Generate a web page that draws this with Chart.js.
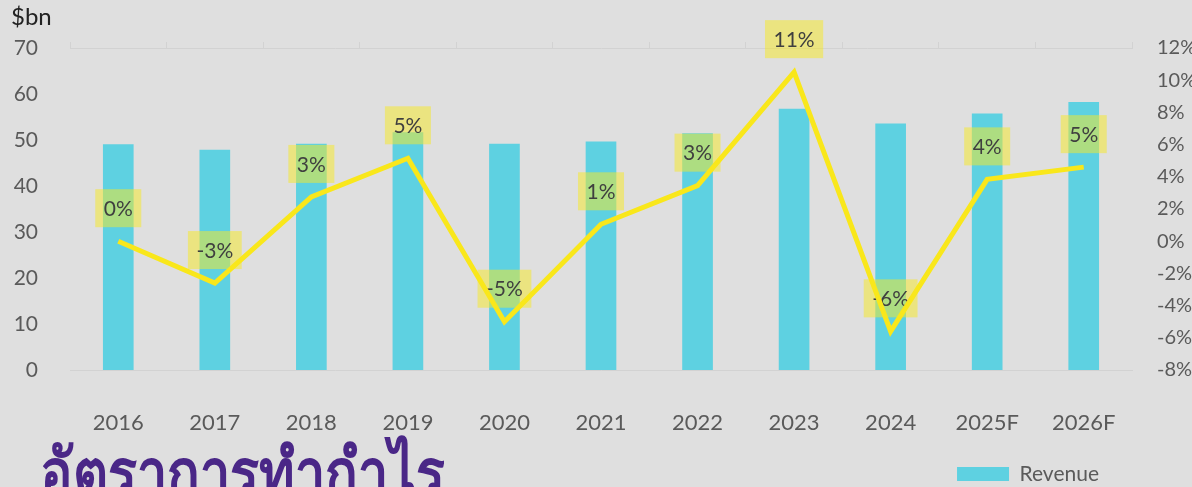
<!DOCTYPE html>
<html>
<head>
<meta charset="utf-8">
<script src="https://cdn.jsdelivr.net/npm/chart.js@4.4.1/dist/chart.umd.min.js"></script>
<style>
  html, body { margin: 0; padding: 0; background: #dfdfdf; overflow: hidden; }
  #wrap { position: relative; width: 1192px; height: 487px; overflow: hidden; }
  #unit { position: absolute; left: 11px; top: 1px; font: 24px Lato, sans-serif; color: #222; }
  #headline { position: absolute; left: 40px; top: 437px; font: 900 66px "Noto Sans", sans-serif; color: #4a2787;
              white-space: nowrap; line-height: 1; transform: scaleX(0.82); transform-origin: left top; }
</style>
</head>
<body>
<div id="wrap">
  <canvas id="chart" width="1192" height="487"></canvas>
  <div id="unit">$bn</div>
  <div id="headline">อัตราการทำกำไร</div>
</div>
<script>
// values
var years = ['2016', '2017', '2018', '2019', '2020', '2021', '2022', '2023', '2024', '2025F', '2026F'];
var revenue = [49.0, 47.8, 49.1, 51.6, 49.1, 49.6, 51.4, 56.7, 53.5, 55.7, 58.2];   // $bn
var margin = [0.0, -2.6, 2.75, 5.15, -5.0, 1.05, 3.45, 10.5, -5.6, 3.84, 4.6];    // %

var FONT = 'Lato, sans-serif';
var GREY = '#5a5a5a';
var AXIS_LINE = '#d2d2d2';

// yellow boxes with the rounded margin, drawn between the bars and the line
var marginLabels = {
	id: 'marginLabels',
	afterDatasetDraw: function (chart, args) {
		if (args.index !== 1) return;
		var ctx = chart.ctx;
		var pts = chart.getDatasetMeta(0).data;
		ctx.save();
		ctx.font = '21px ' + FONT;
		ctx.textAlign = 'center';
		ctx.textBaseline = 'middle';
		for (var i = 0; i < pts.length; i++) {
			var txt = Math.round(margin[i]) + '%';
			var w = ctx.measureText(txt).width + 17;
			var cx = pts[i].x, cy = pts[i].y - 33;
			ctx.fillStyle = 'rgba(246, 232, 40, 0.52)';
			ctx.fillRect(cx - w / 2, cy - 19, w, 38);
			ctx.fillStyle = '#3f3f3f';
			ctx.fillText(txt, cx, cy + 1);
		}
		ctx.restore();
	}
};

var ctx = document.getElementById('chart').getContext('2d');
var config = {
	type: 'bar',
	data: {
		labels: years,
		datasets: [{
			type: 'line',
			label: 'Margin',
			data: margin,
			yAxisID: 'yr',
			borderColor: '#f9e71b',
			borderWidth: 5,
			pointRadius: 0,
			tension: 0,
			fill: false,
			order: 0
		}, {
			label: 'Revenue',
			data: revenue,
			yAxisID: 'y',
			backgroundColor: '#5ed1e1',
			barThickness: 30,
			order: 1
		}]
	},
	options: {
		responsive: false,
		animation: false,
		layout: { padding: { left: 0, right: 0, top: 0, bottom: -7.5 } },
		plugins: {
			tooltip: { enabled: false },
			legend: {
				position: 'bottom',
				align: 'end',
				fullSize: false,
				onClick: (e) => e.stopPropagation(),
				labels: {
					filter: (item) => item.datasetIndex === 1,
					boxWidth: 52,
					boxHeight: 14,
					padding: 33,
					color: GREY,
					font: { family: FONT, size: 21 }
				}
			}
		},
		scales: {
			x: {
				position: 'bottom',
				grid: { display: false },
				border: { color: AXIS_LINE },
				ticks: { color: GREY, font: { family: FONT, size: 22 }, padding: 32 },
				afterFit: function (s) { s.height = 60.5; }
			},
			xTop: {
				type: 'category',
				axis: 'x',
				position: 'top',
				offset: true,
				labels: years,
				grid: { offset: true, drawOnChartArea: false, tickLength: 6, color: AXIS_LINE },
				border: { color: AXIS_LINE },
				ticks: { display: false },
				afterFit: function (s) { s.height = 48; }
			},
			y: {
				position: 'left',
				min: 0,
				max: 70,
				grid: { display: false },
				border: { display: false },
				ticks: { stepSize: 10, color: GREY, font: { family: FONT, size: 21 }, padding: 24 },
				afterFit: function (s) { s.width = 70; }
			},
			yr: {
				position: 'right',
				min: -8,
				max: 12,
				grid: { display: false },
				border: { display: false },
				ticks: {
					stepSize: 2,
					color: GREY,
					font: { family: FONT, size: 20 },
					padding: 17,
					callback: (v) => v + '%'
				},
				afterFit: function (s) { s.width = 60; }
			}
		}
	},
	plugins: [marginLabels]
};
window.revenueChart = new Chart(ctx, config);
</script>
</body>
</html>
